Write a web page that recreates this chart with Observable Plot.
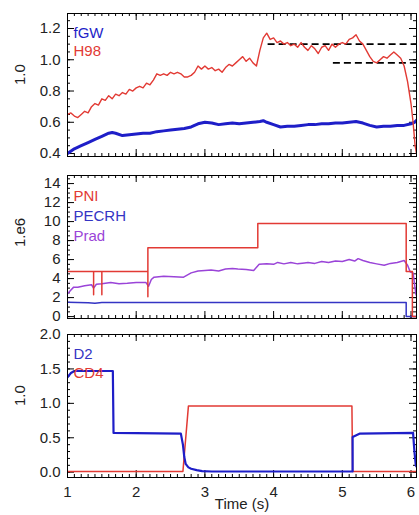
<!DOCTYPE html>
<html><head><meta charset="utf-8">
<script src="https://cdn.jsdelivr.net/npm/d3@7"></script>
<script src="https://cdn.jsdelivr.net/npm/@observablehq/plot@0.6"></script>
<style>
body{margin:0;background:#fff;}
#chart{width:419px;height:515px;overflow:hidden;background:#fff}
#chart svg{display:block;overflow:visible;background:transparent}
</style></head><body><div id="chart"></div>
<script>
// ---------- data ----------
const xTicks = [1, 2, 3, 4, 5, 6];

// Panel 1
const h98Time = [1.00,1.05,1.10,1.15,1.20,1.25,1.30,1.35,1.40,1.45,1.50,1.55,1.60,1.65,1.70,1.75,1.80,1.85,1.90,1.95,2.00,2.05,2.10,2.15,2.20,2.25,2.30,2.35,2.40,2.45,2.50,2.55,2.60,2.65,2.70,2.75,2.80,2.85,2.90,2.95,3.00,3.05,3.10,3.15,3.20,3.25,3.30,3.35,3.40,3.45,3.50,3.55,3.60,3.65,3.70,3.75,3.80,3.85,3.90,3.95,4.00,4.05,4.10,4.15,4.20,4.25,4.30,4.35,4.40,4.45,4.50,4.55,4.60,4.65,4.70,4.75,4.80,4.85,4.90,4.95,5.00,5.05,5.10,5.15,5.20,5.25,5.30,5.35,5.40,5.45,5.50,5.55,5.60,5.65,5.70,5.75,5.80,5.85,5.90,5.95,6.00,6.03,6.06,6.08];
const h98 = [0.65,0.66,0.64,0.63,0.65,0.67,0.66,0.70,0.72,0.71,0.75,0.74,0.77,0.75,0.78,0.77,0.79,0.78,0.81,0.80,0.82,0.83,0.82,0.85,0.84,0.87,0.91,0.90,0.91,0.90,0.92,0.91,0.92,0.91,0.89,0.89,0.90,0.92,0.96,0.94,0.96,0.94,0.95,0.93,0.94,0.92,0.95,0.97,0.96,0.98,1.00,1.02,0.99,1.01,0.98,0.96,1.06,1.14,1.17,1.13,1.14,1.11,1.12,1.10,1.11,1.09,1.10,1.08,1.11,1.08,1.06,1.09,1.07,1.04,1.08,1.09,1.06,1.10,1.08,1.10,1.11,1.10,1.13,1.14,1.16,1.12,1.10,1.06,1.02,0.99,0.98,1.00,1.02,1.01,1.03,1.05,1.03,1.01,0.96,0.86,0.72,0.60,0.45,0.40];
const fgwTime = [1.00,1.10,1.20,1.30,1.40,1.50,1.60,1.65,1.70,1.80,1.90,2.00,2.10,2.20,2.30,2.40,2.50,2.60,2.70,2.80,2.90,3.00,3.10,3.20,3.30,3.40,3.50,3.60,3.70,3.80,3.85,3.90,4.00,4.10,4.20,4.30,4.40,4.50,4.60,4.70,4.80,4.90,5.00,5.10,5.20,5.30,5.40,5.50,5.60,5.70,5.80,5.90,6.00,6.05,6.10];
const fgw = [0.40,0.43,0.45,0.47,0.49,0.51,0.53,0.535,0.53,0.515,0.52,0.525,0.53,0.53,0.54,0.545,0.55,0.555,0.56,0.57,0.59,0.60,0.595,0.585,0.59,0.595,0.59,0.595,0.60,0.605,0.61,0.60,0.585,0.57,0.575,0.575,0.58,0.585,0.585,0.59,0.59,0.595,0.595,0.60,0.605,0.595,0.58,0.57,0.575,0.575,0.58,0.58,0.59,0.60,0.62];
const refLevels = [1.10, 0.98];
const refStart = [3.92, 4.87];

// Panel 2 (units of 1e6)
const pniTime = [1.00,1.38,1.38,1.38,1.50,1.50,1.50,2.17,2.17,2.17,3.77,3.77,5.93,5.93,6.02,6.02,6.20];
const pni     = [4.75,4.75,2.30,4.75,4.75,2.30,4.75,4.75,2.10,7.25,7.25,9.80,9.80,4.75,4.75,0.00,0.00];
const pecrhTime = [1.00,1.30,1.40,1.50,5.93,5.93,6.20];
const pecrh     = [1.50,1.45,1.40,1.48,1.48,0.00,0.00];
const pradTime = [1.00,1.05,1.09,1.15,1.25,1.35,1.38,1.42,1.50,1.63,1.75,1.87,2.00,2.14,2.18,2.22,2.26,2.40,2.55,2.69,2.80,2.90,3.00,3.09,3.20,3.30,3.40,3.48,3.60,3.71,3.79,3.90,4.00,4.06,4.15,4.25,4.35,4.45,4.50,4.60,4.70,4.80,4.90,5.00,5.10,5.18,5.23,5.30,5.40,5.50,5.61,5.70,5.80,5.90,5.95,5.99,6.03,6.07,6.10];
const prad     = [2.40,2.80,3.10,3.10,3.25,3.35,3.00,3.40,3.45,3.60,3.45,3.50,3.60,3.60,3.20,3.90,4.15,4.25,4.20,4.15,4.60,4.80,4.85,4.90,4.80,5.00,5.05,5.00,4.95,4.85,5.50,5.55,5.50,5.70,5.55,5.70,5.55,5.65,5.70,5.60,5.80,5.70,5.85,5.80,6.00,5.85,6.10,5.90,5.70,5.55,5.40,5.60,5.70,5.90,5.40,4.70,4.60,2.40,1.80];

// Panel 3
const d2Time = [1.00,1.05,1.10,1.66,1.67,2.65,2.68,2.70,2.72,2.76,2.80,2.88,2.96,3.10,5.15,5.15,5.25,6.03,6.05,6.07,6.10];
const d2     = [1.38,1.44,1.47,1.47,0.57,0.56,0.40,0.22,0.12,0.07,0.05,0.03,0.015,0.01,0.01,0.51,0.56,0.57,0.30,0.10,0.05];
const cd4Time = [1.00,2.68,2.76,5.14,5.15,6.20];
const cd4     = [0.01,0.01,0.96,0.96,0.01,0.01];

// ---------- drawing ----------
const W = 419, ML = 67, MR = 3;
const xDomain = [1, 6.08];
const FONT = "'Liberation Sans', Arial, Helvetica, sans-serif";
const BLUE = "#1e1ec8", RED = "#e23a34", PURPLE = "#9a44d8";
const zipS = (t, v) => t.map((d, i) => ({t: d, v: v[i]}));
const xMinor = d3.range(1, 6.081, 0.1).map(d => +d.toFixed(2));

function panel({height, mt, mb, yDomain, yMajor, yMinor, yFmt, yLabel, lines, legend, extra = [], showX = false}) {
  const ih = height - mt - mb, iw = W - ML - MR;
  const marks = [
    // inward ticks on all four sides
    Plot.tickX(xMinor, {x: d => d, insetTop: ih - 3, stroke: "#000"}),
    Plot.tickX(xMinor, {x: d => d, insetBottom: ih - 3, stroke: "#000"}),
    Plot.tickX(xTicks, {x: d => d, insetTop: ih - 7, stroke: "#000"}),
    Plot.tickX(xTicks, {x: d => d, insetBottom: ih - 7, stroke: "#000"}),
    Plot.tickY(yMinor, {y: d => d, insetRight: iw - 3, stroke: "#000"}),
    Plot.tickY(yMinor, {y: d => d, insetLeft: iw - 3, stroke: "#000"}),
    Plot.tickY(yMajor, {y: d => d, insetRight: iw - 7, stroke: "#000"}),
    Plot.tickY(yMajor, {y: d => d, insetLeft: iw - 7, stroke: "#000"}),
    Plot.axisY({ticks: yMajor, tickSize: 0, tickPadding: 7, tickFormat: yFmt, label: null, fontSize: 15, fill: "#222"}),
    Plot.text([yLabel], {frameAnchor: "left", dx: -47, rotate: -90, fontSize: 15, fill: "#222"}),
    ...extra,
    ...lines.map(l => Plot.line(zipS(l.t, l.v), {x: "t", y: "v", stroke: l.color, strokeWidth: l.w, clip: true, strokeLinejoin: "round"})),
    ...legend.map(g => Plot.text([g.text], {frameAnchor: "top-left", dx: 6, dy: g.dy, lineAnchor: "top", fill: g.color, fontSize: 15})),
    Plot.frame({stroke: "#000", strokeWidth: 1})
  ];
  if (showX) {
    marks.push(Plot.axisX({ticks: xTicks, tickSize: 0, tickPadding: 9, tickFormat: d3.format("d"), label: null, fontSize: 15, fill: "#222"}));
    marks.push(Plot.text(["Time (s)"], {frameAnchor: "bottom", dy: 31, fontSize: 15, fill: "#222"}));
  }
  return Plot.plot({
    width: W, height, marginLeft: ML, marginRight: MR, marginTop: mt, marginBottom: mb,
    style: {fontFamily: FONT, fontSize: "15px", background: "transparent", overflow: "visible"},
    x: {domain: xDomain, axis: null},
    y: {domain: yDomain, axis: null},
    marks
  });
}

const root = document.getElementById("chart");
const f1 = d3.format(".1f");

root.append(panel({
  height: 166, mt: 13, mb: 10, yDomain: [0.381, 1.296],
  yMajor: [0.4, 0.6, 0.8, 1.0, 1.2], yMinor: d3.range(0.4, 1.296, 0.05), yFmt: f1, yLabel: "1.0",
  lines: [
    {t: fgwTime, v: fgw, color: BLUE, w: 3},
    {t: h98Time, v: h98, color: RED, w: 1.4}
  ],
  extra: [
    Plot.ruleY(refLevels.map((y, i) => ({y, x1: refStart[i]})), {y: "y", x1: "x1", x2: () => xDomain[1], stroke: "#000", strokeWidth: 1.6, strokeDasharray: "7,4"})
  ],
  legend: [{text: "fGW", color: BLUE, dy: 14}, {text: "H98", color: RED, dy: 32}]
}));

root.append(panel({
  height: 161, mt: 9, mb: 9, yDomain: [-0.2, 14.85],
  yMajor: [0, 2, 4, 6, 8, 10, 12, 14], yMinor: d3.range(0, 14.85, 0.5), yFmt: d3.format("d"), yLabel: "1.e6",
  lines: [
    {t: pecrhTime, v: pecrh, color: "#3434c4", w: 1.5},
    {t: pradTime, v: prad, color: PURPLE, w: 1.5},
    {t: pniTime, v: pni, color: RED, w: 1.5}
  ],
  legend: [{text: "PNI", color: RED, dy: 15}, {text: "PECRH", color: "#3434c4", dy: 35}, {text: "Prad", color: PURPLE, dy: 55}]
}));

root.append(panel({
  height: 188, mt: 7, mb: 38, yDomain: [-0.077, 2.0],
  yMajor: [0, 0.5, 1.0, 1.5, 2.0], yMinor: d3.range(0, 2.0, 0.1), yFmt: f1, yLabel: "1.0",
  lines: [
    {t: cd4Time, v: cd4, color: RED, w: 1.5},
    {t: d2Time, v: d2, color: BLUE, w: 2.2}
  ],
  legend: [{text: "D2", color: "#3434c4", dy: 14}, {text: "CD4", color: RED, dy: 33}],
  showX: true
}));
</script></body></html>
